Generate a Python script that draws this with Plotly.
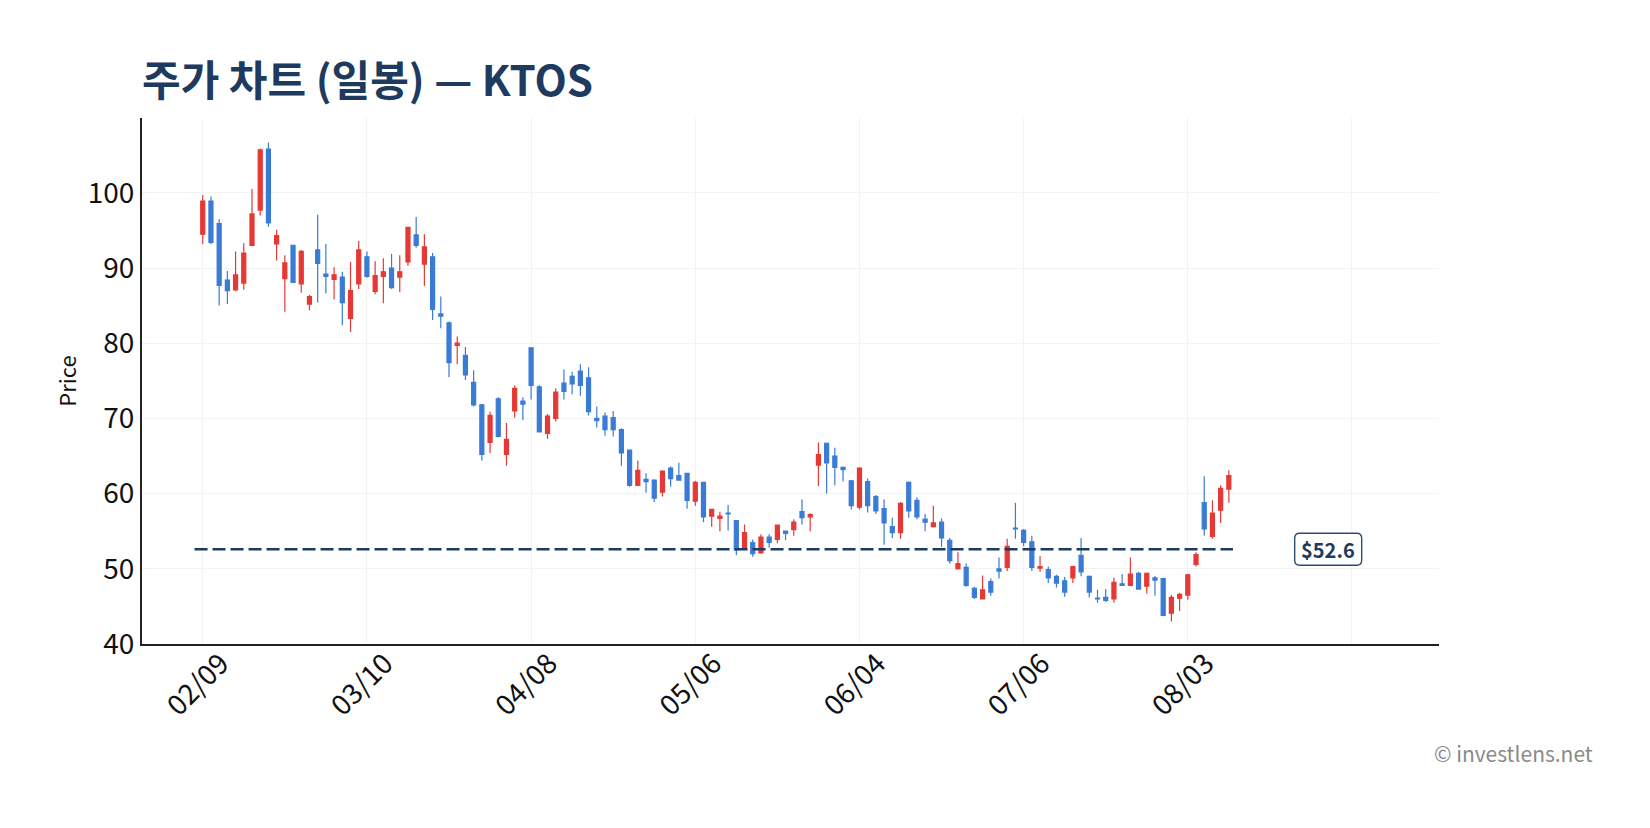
import plotly.graph_objects as go

# ---- data (trading-day index 0..125, 2026-02-09 .. 2026-08-10) ----
opens = [94.5, 98.9, 95.9, 88.4, 87.1, 88.0, 93.0, 97.7, 105.8, 93.2,
         88.6, 93.0, 87.9, 85.2, 92.4, 89.2, 88.5, 88.8, 83.3, 87.9,
         91.5, 86.9, 88.9, 90.0, 88.8, 90.8, 94.4, 90.5, 91.5, 83.9,
         82.7, 79.7, 78.4, 74.8, 71.8, 66.8, 72.6, 65.2, 71.0, 72.3,
         79.4, 74.2, 68.0, 70.0, 74.7, 75.6, 76.3, 75.4, 70.0, 70.3,
         70.1, 68.5, 65.8, 61.1, 61.9, 61.8, 60.2, 63.4, 62.4, 62.7,
         59.0, 61.5, 57.0, 56.7, 57.4, 56.4, 52.7, 53.5, 52.1, 54.2,
         53.9, 55.0, 55.2, 57.6, 56.9, 63.8, 66.7, 65.0, 63.5, 61.7,
         58.2, 61.6, 59.6, 58.0, 55.6, 54.8, 61.5, 59.1, 56.6, 55.6,
         56.2, 53.8, 50.0, 50.2, 47.4, 46.0, 48.3, 50.0, 50.2, 55.4,
         55.1, 53.6, 50.1, 49.9, 49.0, 48.4, 48.8, 51.8, 49.0, 46.1,
         46.2, 46.0, 48.0, 47.8, 49.4, 47.7, 48.8, 48.7, 44.1, 46.1,
         46.5, 50.6, 58.8, 54.3, 57.8, 60.6]
highs = [99.7, 99.5, 96.5, 89.6, 92.2, 93.3, 100.5, 105.9, 106.7, 95.1,
         91.7, 93.1, 92.4, 86.4, 97.1, 93.2, 90.1, 89.5, 90.8, 93.6,
         92.2, 90.9, 91.3, 91.9, 91.7, 95.4, 96.8, 94.5, 92.0, 86.2,
         82.9, 80.9, 79.5, 76.4, 71.9, 70.9, 72.8, 69.4, 74.4, 72.8,
         79.4, 74.4, 70.6, 74.0, 76.5, 76.2, 77.2, 76.8, 71.6, 70.8,
         71.0, 68.7, 65.8, 64.4, 62.7, 61.9, 63.1, 63.6, 64.1, 62.7,
         61.7, 61.5, 57.9, 57.6, 58.5, 56.4, 55.9, 53.9, 54.6, 54.6,
         55.9, 55.0, 56.6, 59.2, 57.4, 66.8, 66.8, 66.1, 63.6, 61.8,
         63.5, 62.0, 59.8, 59.2, 56.8, 58.9, 61.6, 59.5, 57.3, 58.4,
         56.7, 54.1, 52.2, 50.7, 47.6, 49.1, 48.7, 51.5, 54.0, 58.8,
         55.3, 54.4, 51.7, 50.3, 49.2, 48.9, 50.4, 54.1, 49.1, 47.2,
         47.3, 48.8, 49.3, 51.5, 49.6, 49.5, 49.0, 48.8, 46.5, 46.8,
         49.3, 52.2, 62.3, 59.1, 61.1, 63.1]
lows = [93.2, 93.2, 85.0, 85.2, 86.9, 87.1, 92.9, 97.0, 95.5, 91.0,
        84.2, 88.0, 86.7, 84.4, 85.4, 86.6, 85.8, 82.4, 81.5, 87.2,
        88.7, 86.5, 85.3, 87.2, 86.8, 90.3, 92.7, 87.6, 83.1, 82.0,
        75.5, 77.2, 75.1, 71.6, 64.4, 65.4, 67.5, 63.7, 70.1, 69.8,
        72.5, 68.2, 67.3, 69.6, 72.5, 73.2, 73.0, 70.4, 68.8, 67.7,
        67.6, 63.7, 60.9, 61.0, 60.1, 58.9, 59.6, 60.9, 61.7, 58.0,
        58.4, 56.2, 55.6, 55.0, 55.1, 51.8, 52.5, 51.6, 52.0, 52.8,
        53.4, 53.8, 54.4, 55.9, 55.0, 61.0, 60.0, 61.1, 61.6, 57.9,
        57.9, 57.5, 57.3, 53.2, 54.1, 54.0, 56.8, 56.6, 55.0, 55.5,
        52.9, 50.7, 50.0, 47.6, 46.0, 46.0, 46.4, 48.7, 49.7, 54.0,
        53.0, 49.7, 49.6, 48.1, 47.5, 46.3, 48.1, 49.0, 46.2, 45.5,
        45.6, 45.5, 47.7, 47.8, 47.2, 46.7, 46.4, 43.7, 43.0, 44.4,
        45.9, 50.3, 54.4, 54.0, 56.1, 58.8]
closes = [98.9, 93.4, 87.7, 87.0, 89.1, 92.0, 97.2, 105.7, 96.0, 94.3,
          90.7, 88.1, 92.2, 86.2, 90.6, 88.9, 89.1, 85.4, 87.0, 92.4,
          88.9, 89.0, 89.5, 87.4, 89.5, 95.4, 93.0, 92.8, 84.5, 83.6,
          77.4, 80.0, 75.8, 71.8, 65.2, 70.4, 67.6, 67.2, 74.0, 71.9,
          74.4, 68.2, 70.3, 73.5, 73.6, 74.6, 74.4, 70.9, 69.7, 68.5,
          68.5, 65.4, 61.1, 63.1, 61.6, 59.4, 63.0, 62.0, 61.8, 59.1,
          61.5, 56.9, 57.9, 57.0, 57.3, 52.5, 54.8, 52.0, 54.2, 53.5,
          55.8, 54.7, 56.2, 56.8, 57.2, 65.2, 64.1, 63.5, 63.2, 58.4,
          63.4, 58.4, 57.7, 56.1, 54.8, 58.7, 57.7, 56.9, 56.2, 56.1,
          54.1, 51.1, 50.7, 47.8, 46.2, 47.2, 46.9, 49.7, 53.0, 55.3,
          53.5, 50.2, 50.3, 48.8, 48.1, 46.9, 50.3, 49.6, 46.9, 46.0,
          45.8, 48.2, 47.8, 49.3, 47.3, 49.4, 48.5, 43.8, 46.2, 46.6,
          49.2, 51.9, 55.3, 57.4, 60.7, 62.4]

tick_index = [0, 20, 40, 60, 80, 100, 120, 140]
tick_labels = ["02/09", "03/10", "04/08", "05/06", "06/04", "07/06", "08/03", ""]
y_ticks = [40, 50, 60, 70, 80, 90, 100]
ref_price = 52.6
ref_label = "$52.6"
ticker = "KTOS"

# ---- styling ----
FONT = "Noto Sans CJK KR"
NAVY = "#1e3a5f"
UP = "#e53935"
DOWN = "#3a7bd5"

x = list(range(len(closes)))

fig = go.Figure()
fig.add_trace(go.Candlestick(
    x=x, open=opens, high=highs, low=lows, close=closes,
    increasing=dict(line=dict(color=UP, width=1.2), fillcolor=UP),
    decreasing=dict(line=dict(color=DOWN, width=1.2), fillcolor=DOWN),
    showlegend=False,
))

# reference dashed line
fig.add_shape(type="line", xref="x", yref="y",
              x0=-1, x1=len(closes) - 0.5, y0=ref_price, y1=ref_price,
              line=dict(color=NAVY, width=2.6, dash="13px,5px"))

# rounded label box
a, b, r = 33.5, 16, 5
path = (f"M {-a+r},{-b} L {a-r},{-b} Q {a},{-b} {a},{-b+r} L {a},{b-r} "
        f"Q {a},{b} {a-r},{b} L {-a+r},{b} Q {-a},{b} {-a},{b-r} "
        f"L {-a},{-b+r} Q {-a},{-b} {-a+r},{-b} Z")
fig.add_shape(type="path", xref="x", yref="y", xsizemode="pixel", ysizemode="pixel",
              xanchor=137.1, yanchor=ref_price, path=path,
              line=dict(color="#2f4d72", width=1.4), fillcolor="white")
fig.add_annotation(x=137.1, y=ref_price, xref="x", yref="y", text=ref_label,
                   showarrow=False, font=dict(family=FONT, size=20, color=NAVY, weight="bold"),
                   xanchor="center", yanchor="middle")

# watermark
fig.add_annotation(x=1.1205, y=-0.208, xref="paper", yref="paper",
                   text="© investlens.net", showarrow=False,
                   xanchor="right", yanchor="middle",
                   font=dict(family=FONT, size=21, color="#8a8a8a"))

fig.update_layout(
    width=1650, height=828,
    paper_bgcolor="white", plot_bgcolor="white",
    margin=dict(l=134, r=219, t=110, b=192),
    font=dict(family=FONT, color="#111111"),
    title=dict(text=f"주가 차트 (일봉) — {ticker}", x=0, xref="paper", xanchor="left",
               y=1 - 73 / 828, yref="container", yanchor="middle",
               font=dict(family=FONT, size=42, color=NAVY, weight="bold")),
    xaxis=dict(range=[-7.4, 150.6], tickmode="array", tickvals=tick_index, ticktext=tick_labels,
               tickangle=-45, tickfont=dict(size=28, family=FONT, color="#111111"),
               ticklabelshift=18, ticklabelstandoff=-10,
               showgrid=True, gridcolor="#f3f3f3", gridwidth=1,
               showline=True, linecolor="#222222", linewidth=2, ticks="",
               zeroline=False, rangeslider=dict(visible=False)),
    yaxis=dict(range=[40, 109.95], tickmode="array", tickvals=y_ticks,
               tickfont=dict(size=28, family=FONT, color="#111111"),
               showgrid=True, gridcolor="#f3f3f3", gridwidth=1,
               showline=True, linecolor="#222222", linewidth=2, ticks="",
               zeroline=False,
               title=dict(text="Price", font=dict(size=22, family=FONT, color="#111111"), standoff=5)),
)

fig.write_html("out.html")
